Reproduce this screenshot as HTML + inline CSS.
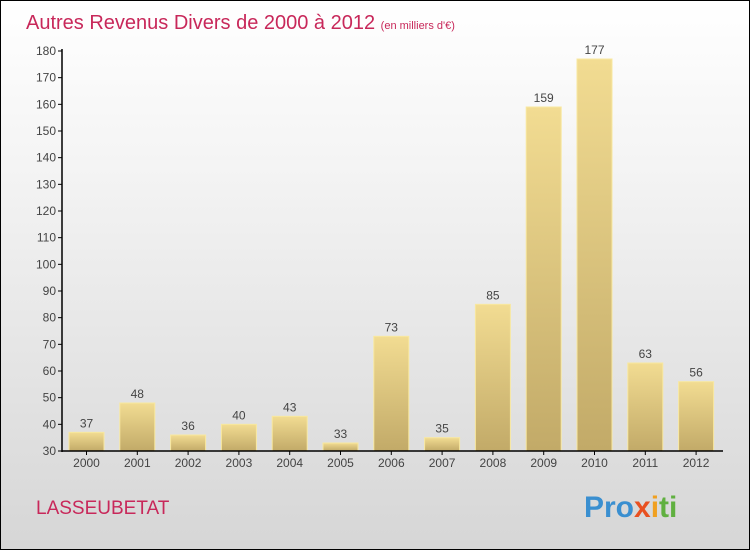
<!DOCTYPE html>
<html><head><meta charset="utf-8"><style>
body{margin:0}
#c{width:748px;height:548px;border:1px solid #000;background:linear-gradient(#ffffff,#f4f4f4 30%,#d6d6d6);position:relative;font-family:"Liberation Sans",sans-serif;overflow:hidden}
</style></head><body>
<div id="c">
<svg width="748" height="548" id="s">
<defs><linearGradient id="g" x1="0" y1="0" x2="0" y2="1"><stop offset="0" stop-color="#f2dc92"/><stop offset="1" stop-color="#c2aa68"/></linearGradient></defs>
<text x="25" y="28" font-size="20" fill="#c8285a">Autres Revenus Divers de 2000 à 2012 <tspan font-size="11">(en milliers d'€)</tspan></text>
<text x="35" y="513" font-size="19" fill="#c8285a">LASSEUBETAT</text>
<text x="583" y="516" font-size="30" font-weight="bold" fill="#3a8fd0">Pro<tspan fill="#e85020">x</tspan><tspan fill="#f0a020">i</tspan><tspan fill="#60b040">ti</tspan></text>
<g id="plot"></g>
</svg></div>
<script>
const categories=["2000","2001","2002","2003","2004","2005","2006","2007","2008","2009","2010","2011","2012"];
const values=[37,48,36,40,43,33,73,35,85,159,177,63,56];
const yTicks=[30,40,50,60,70,80,90,100,110,120,130,140,150,160,170,180];
const ns="http://www.w3.org/2000/svg";
const p=document.getElementById("plot");
const y=v=>450-(v-30)*400/150;
const x=i=>85.5+i*50.8;
function mk(t,a){const e=document.createElementNS(ns,t);for(const k in a)e.setAttribute(k,a[k]);p.appendChild(e);return e;}
yTicks.forEach(v=>{
 const l=mk("line",{x1:57,x2:61,y1:y(v),y2:y(v),stroke:"#000"});
 
 
 const t=mk("text",{x:55,y:y(v)+4,"font-size":12,fill:"#444","text-anchor":"end"});t.textContent=v;
 
 
});
values.forEach((v,i)=>{
 const r=mk("rect",{x:x(i)-17.5,y:y(v),width:35,height:450-y(v),fill:"url(#g)",stroke:"#f8e8a0","stroke-width":1});
 
 
 const t=mk("text",{x:x(i),y:y(v)-5,"font-size":12,fill:"#444","text-anchor":"middle"});t.textContent=v;
 
 
 const c=mk("text",{x:x(i),y:466,"font-size":12,fill:"#444","text-anchor":"middle"});c.textContent=categories[i];
 
 
 const tk=mk("line",{x1:x(i),x2:x(i),y1:450,y2:454,stroke:"#000"});
 
 
});
const ya=mk("line",{x1:61,x2:61,y1:48,y2:451,stroke:"#000","stroke-width":1.5});


const xa=mk("line",{x1:61,x2:722,y1:450,y2:450,stroke:"#000","stroke-width":1.5});


</script>
</body></html>
